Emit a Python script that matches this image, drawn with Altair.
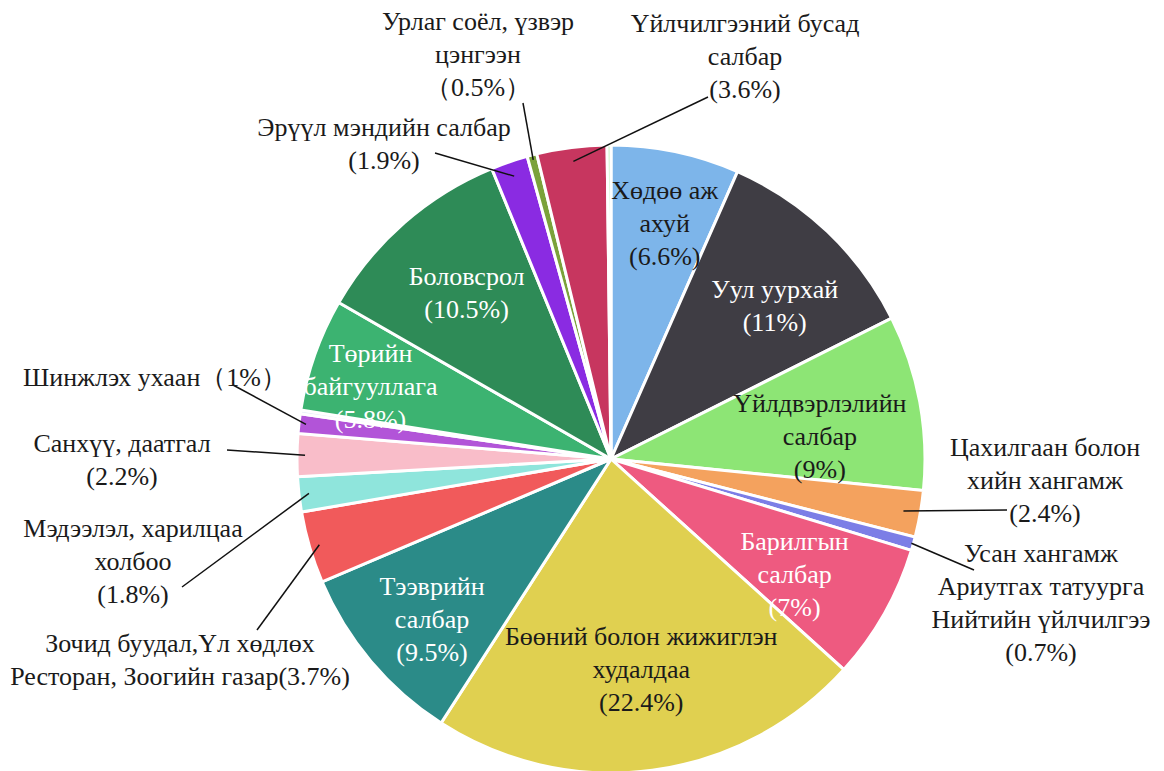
import math
import altair as alt
import pandas as pd

# ---- data ----
sectors = [
    "Хөдөө аж ахуй", "Уул уурхай", "Үйлдвэрлэлийн салбар", "Цахилгаан болон хийн хангамж",
    "Усан хангамж Ариутгах татуурга Нийтийн үйлчилгээ", "Барилгын салбар",
    "Бөөний болон жижиглэн худалдаа", "Тээврийн салбар",
    "Зочид буудал,Үл хөдлөх Ресторан, Зоогийн газар", "Мэдээлэл, харилцаа холбоо",
    "Санхүү, даатгал", "Шинжлэх ухаан", "(бусад 1)", "Төрийн байгууллага", "Боловсрол",
    "Эрүүл мэндийн салбар", "Урлаг соёл, үзвэр цэнгээн", "Үйлчилгээний бусад салбар", "(бусад 2)",
]
shares = [6.6, 11, 9, 2.4, 0.7, 7, 22.4, 9.5, 3.7, 1.8, 2.2, 1, 0.2, 5.8, 10.5, 1.9, 0.5, 3.6, 0.2]
colors = ["#7DB5EA", "#3F3D44", "#8DE575", "#F4A25E", "#7C7EE6", "#EE5A80", "#E0D050",
          "#2B8B88", "#F15A5B", "#8FE5DC", "#F9BDC9", "#B254D8", "#E6EEF8", "#3CB371",
          "#2E8B57", "#8A2BE2", "#7BA23A", "#C7365F", "#BDF0B8"]

# labels drawn inside the slices: (slice index, text, colour)
inside_idx = [0, 1, 2, 5, 6, 7, 13, 14]
inside_text = ["Хөдөө аж\nахуй\n(6.6%)", "Уул уурхай\n(11%)", "Үйлдвэрлэлийн\nсалбар\n(9%)",
               "Барилгын\nсалбар\n(7%)", "Бөөний болон жижиглэн\nхудалдаа\n(22.4%)",
               "Тээврийн\nсалбар\n(9.5%)", "Төрийн\nбайгууллага\n(5.8%)", "Боловсрол\n(10.5%)"]
inside_color = ["#1a1a1a", "white", "#1a1a1a", "white", "#1a1a1a", "white", "white", "white"]

# labels drawn outside with leader lines
outside_idx = [16, 17, 15, 11, 10, 9, 8, 3, 4]
outside_text = ["Урлаг соёл, үзвэр\nцэнгээн\n（0.5%）",
                "Үйлчилгээний бусад\nсалбар\n(3.6%)",
                "Эрүүл мэндийн салбар\n(1.9%)",
                "Шинжлэх ухаан（1%）",
                "Санхүү, даатгал\n(2.2%)",
                "Мэдээлэл,  харилцаа\nхолбоо\n(1.8%)",
                "Зочид буудал,Үл хөдлөх\nРесторан,  Зоогийн газар(3.7%)",
                "Цахилгаан болон\nхийн хангамж\n(2.4%)",
                "Усан хангамж\nАриутгах татуурга\nНийтийн үйлчилгээ\n(0.7%)"]

# ---- layout (pixels) ----
CX, CY, R = 603, 451, 314
LH = 33
inside_r = [241, 224, 210, 217, 213, 241, 251, 220]
inside_dang = [1.0, 3.4, 4.4, 2.7, -0.6, -1.9, -2.8, 0.2]  # degrees nudge from mid-angle
out_label_xy = [(470, 47), (737, 49), (376, 136), (147, 370), (114, 452), (125, 554),
                (172, 652), (1037, 473), (1033, 595)]
out_line_end = [(515, 95), (700, 89), (427, 145), (225, 377), (219, 442), (174, 579),
                (249, 622), (999, 502), (966, 562)]
anchor_r = [309, 300, 299, 307, 306, 304, 304, 297, 312]

FONT = "Liberation Serif"
FS = 26

pie = pd.DataFrame({"sector": sectors, "value": shares, "color": colors,
                    "order": list(range(len(sectors)))})

total = sum(shares)
mid = []
acc = 0.0
for v in shares:
    mid.append((acc + v / 2) / total * 360.0)
    acc += v


def polar(deg, r):
    a = math.radians(deg)
    return CX + r * math.sin(a), CY - r * math.cos(a)


def first_line_y(text, yc):
    n = text.count("\n") + 1
    return yc - (n - 1) * LH / 2


in_rows = []
for k, idx in enumerate(inside_idx):
    x, y = polar(mid[idx] + inside_dang[k], inside_r[k])
    in_rows.append({"t": inside_text[k], "c": inside_color[k], "x": x,
                    "y": first_line_y(inside_text[k], y)})
ins = pd.DataFrame(in_rows)

lab_rows, line_rows = [], []
for k, idx in enumerate(outside_idx):
    ax, ay = polar(mid[idx], anchor_r[k])
    lx, ly = out_label_xy[k]
    ex, ey = out_line_end[k]
    lab_rows.append({"t": outside_text[k], "x": lx, "y": first_line_y(outside_text[k], ly)})
    line_rows.append({"x": ex, "y": ey, "x2": ax, "y2": ay})
labs = pd.DataFrame(lab_rows)
lines = pd.DataFrame(line_rows)

arcs = alt.Chart(pie).mark_arc(outerRadius=R, stroke="white", strokeWidth=3).encode(
    theta=alt.Theta("value:Q", stack=True),
    order=alt.Order("order:Q"),
    color=alt.Color("color:N", scale=None),
    x=alt.value(CX), y=alt.value(CY),
)
itext = alt.Chart(ins).mark_text(font=FONT, fontSize=FS, lineBreak="\n", lineHeight=LH,
                                 align="center", baseline="middle").encode(
    x=alt.X("x:Q", scale=None), y=alt.Y("y:Q", scale=None), text="t:N",
    color=alt.Color("c:N", scale=None),
)
leaders = alt.Chart(lines).mark_rule(color="#111111", strokeWidth=1.5).encode(
    x=alt.X("x:Q", scale=None), y=alt.Y("y:Q", scale=None),
    x2="x2:Q", y2="y2:Q",
)
otext = alt.Chart(labs).mark_text(font=FONT, fontSize=FS, lineBreak="\n", lineHeight=LH,
                                  align="center", baseline="middle", color="#1a1a1a").encode(
    x=alt.X("x:Q", scale=None), y=alt.Y("y:Q", scale=None), text="t:N",
)

chart = alt.layer(arcs, itext, leaders, otext).properties(
    width=1148, height=763, padding=0, autosize=alt.AutoSizeParams(type="none"),
).configure_view(strokeWidth=0)

chart.save("out.html", embed_options={"renderer": "svg", "actions": False})
